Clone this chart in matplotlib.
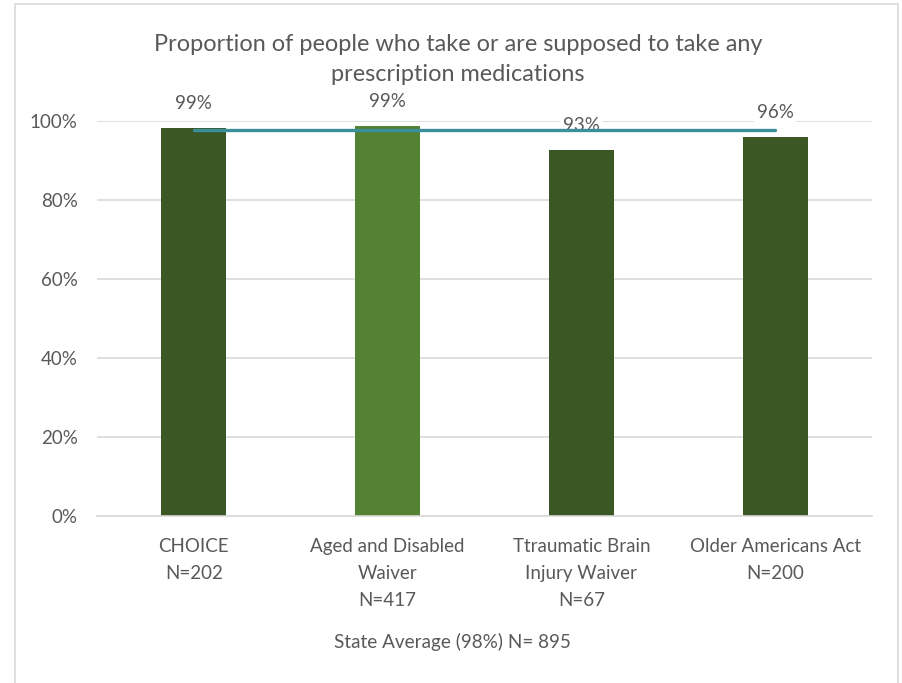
import matplotlib
matplotlib.use('Agg')
import matplotlib.pyplot as plt
from matplotlib.patches import Rectangle

# data
programs = ['CHOICE\nN=202', 'Aged and Disabled\nWaiver\nN=417',
            'Ttraumatic Brain\nInjury Waiver\nN=67', 'Older Americans Act\nN=200']
shares = [0.983, 0.987, 0.927, 0.960]
share_labels = ['99%', '99%', '93%', '96%']
state_avg = 0.978
bar_colors = ['#3A5724', '#548235', '#3A5724', '#3A5724']

TXT = '#595959'
GRID = '#D9D9D9'

plt.rcParams['font.family'] = ['Lato', 'DejaVu Sans']

fig = plt.figure(figsize=(9.03, 6.83), dpi=100)
fig.patch.set_facecolor('white')
# chart border
fig.patches.append(Rectangle((15 / 903, -0.02), 883 / 903, 1.02 - 4 / 683,
                             transform=fig.transFigure, fill=False,
                             edgecolor=GRID, linewidth=1.2))

ax = fig.add_axes([97 / 903, 1 - 516 / 683, 775 / 903, 395 / 683])
x = range(len(programs))
ax.bar(x, shares, width=0.335, color=bar_colors, zorder=2)
ax.plot(list(x), [state_avg] * len(programs), color='#3A8F9B',
        linewidth=2.4, solid_capstyle='round', zorder=5)

for xi, v, lab in zip(x, shares, share_labels):
    ax.annotate(lab, (xi, v), xytext=(0, 17.5), textcoords='offset points',
                ha='center', va='center', fontsize=13.5, color=TXT, zorder=4,
                bbox=dict(boxstyle='square,pad=0.15', fc='white', ec='none'))

ax.set_xlim(-0.5, len(programs) - 0.5)
ax.set_ylim(0, 1)
ax.set_yticks([0, 0.2, 0.4, 0.6, 0.8, 1.0])
ax.set_yticklabels(['0%', '20%', '40%', '60%', '80%', '100%'])
ax.set_xticks(list(x))
ax.set_xticklabels(programs, linespacing=1.72)
ax.tick_params(length=0, labelsize=13.5, colors=TXT)
ax.tick_params(axis='x', pad=16)
ax.tick_params(axis='y', pad=14)
ax.yaxis.grid(True, color=GRID, linewidth=1.2)
ax.set_axisbelow(True)
for s in ['top', 'right', 'left']:
    ax.spines[s].set_visible(False)
ax.spines['bottom'].set_color(GRID)
ax.spines['bottom'].set_linewidth(1.2)

fig.text(458 / 903, 1 - 59.5 / 683,
         'Proportion of people who take or are supposed to take any\nprescription medications',
         ha='center', va='center', fontsize=16.9, color=TXT, linespacing=1.58)
fig.text(452 / 903, 1 - 642 / 683, 'State Average (98%) N= 895',
         ha='center', va='center', fontsize=13.6, color=TXT)

fig.savefig('out.png', dpi=100, facecolor='white')
